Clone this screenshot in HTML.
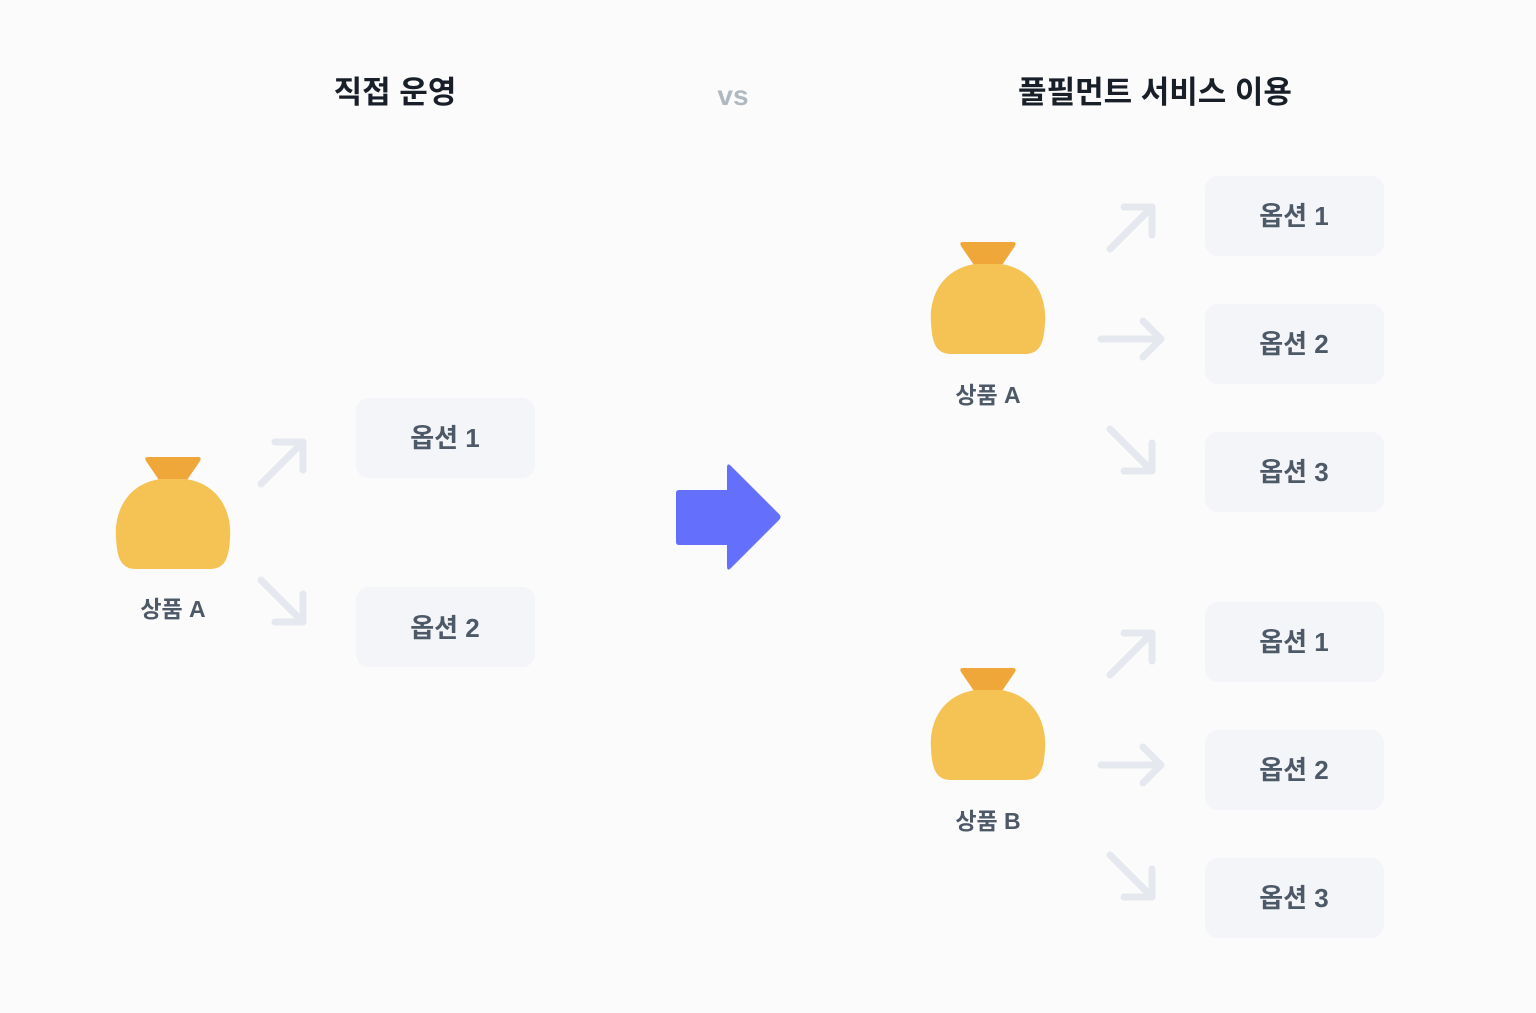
<!DOCTYPE html>
<html><head><meta charset="utf-8"><style>
html,body{margin:0;padding:0;background:#fbfbfb;}
svg{display:block}
text{font-family:"Liberation Sans","Noto Sans CJK KR",sans-serif;}
</style></head><body>
<svg width="1536" height="1013" viewBox="0 0 1536 1013" xmlns="http://www.w3.org/2000/svg">
<defs>
<g id="bag">
<path d="M148,457 L198,457 Q202,457 200,461 L187,480 L159,480 L146,461 Q144,457 148,457 Z" fill="#f0a73a"/>
<path d="M160,479 L186,479 C218,484 232,510 230,538 C229,556 226,569 210,569 L136,569 C120,569 117,556 116,538 C114,510 128,484 160,479 Z" fill="#f5c354"/>
</g>
<g id="au" fill="none" stroke="#e5e8ee" stroke-width="7" stroke-linecap="round" stroke-linejoin="round">
<path d="M0,0 L42,-42 M14,-42 L42,-42 L42,-14"/>
</g>
<g id="ad" fill="none" stroke="#e5e8ee" stroke-width="7" stroke-linecap="round" stroke-linejoin="round">
<path d="M0,0 L42,42 M14,42 L42,42 L42,14"/>
</g>
<g id="ar" fill="none" stroke="#e5e8ee" stroke-width="7" stroke-linecap="round" stroke-linejoin="round">
<path d="M0,0 L60,0 M42,-18 L60,0 L42,18"/>
</g>
</defs>
<rect width="1536" height="1013" fill="#fbfbfb"/>
<g font-weight="bold" font-size="31" text-anchor="middle">
<text x="395" y="103" fill="#191f28">직접 운영</text>
<text x="733" y="105" fill="#b0b8c1" font-size="28">vs</text>
<text x="1155" y="103" fill="#191f28">풀필먼트 서비스 이용</text>
</g>
<use href="#bag"/>
<use href="#au" x="261" y="484"/>
<use href="#ad" x="261" y="580"/>
<g fill="#f3f5f8">
<rect x="356" y="398" width="179" height="80" rx="13"/>
<rect x="356" y="587" width="179" height="80" rx="13"/>
<rect x="1205" y="176" width="179" height="80" rx="13"/>
<rect x="1205" y="304" width="179" height="80" rx="13"/>
<rect x="1205" y="432" width="179" height="80" rx="13"/>
<rect x="1205" y="602" width="179" height="80" rx="13"/>
<rect x="1205" y="730" width="179" height="80" rx="13"/>
<rect x="1205" y="858" width="179" height="80" rx="13"/>
</g>
<g font-size="26" font-weight="bold" fill="#4e5968" text-anchor="middle">
<text x="445" y="447">옵션 1</text>
<text x="445" y="637">옵션 2</text>
<text x="1294" y="225">옵션 1</text>
<text x="1294" y="353">옵션 2</text>
<text x="1294" y="481">옵션 3</text>
<text x="1294" y="651">옵션 1</text>
<text x="1294" y="779">옵션 2</text>
<text x="1294" y="907">옵션 3</text>
</g>
<g font-size="23" font-weight="bold" fill="#4e5968" text-anchor="middle">
<text x="173" y="617">상품 A</text>
<text x="988" y="403">상품 A</text>
<text x="988" y="829">상품 B</text>
</g>
<path d="M679,490 L727,490 L727,468 Q727,462 731,466 L779,514 Q782,517 779,520 L731,568 Q727,572 727,566 L727,545 L679,545 Q676,545 676,542 L676,493 Q676,490 679,490 Z" fill="#6470fb"/>
<use href="#bag" transform="translate(815,-215)"/>
<use href="#bag" transform="translate(815,211)"/>
<use href="#au" x="1110" y="249"/>
<use href="#ar" x="1101" y="339"/>
<use href="#ad" x="1110" y="429"/>
<use href="#au" x="1110" y="675"/>
<use href="#ar" x="1101" y="765"/>
<use href="#ad" x="1110" y="855"/>
</svg>
</body></html>
